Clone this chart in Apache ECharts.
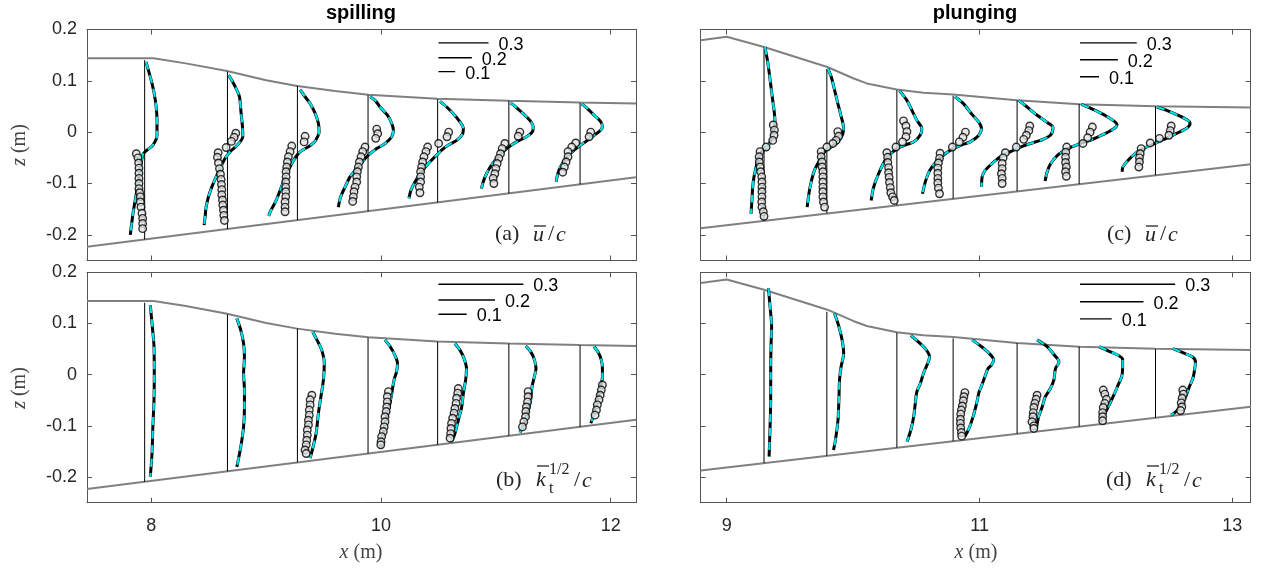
<!DOCTYPE html>
<html><head><meta charset="utf-8">
<script src="https://cdn.jsdelivr.net/npm/echarts@6/dist/echarts.min.js"></script>
<style>html,body{margin:0;padding:0;background:#fff}#c{width:1261px;height:572px}</style>
</head><body><div id="c"></div><script>
// ---------- data ----------
const xTicksL = [8, 10, 12];
const xTicksR = [9, 11, 13];
const zTicks = [-0.2, -0.1, 0, 0.1, 0.2];
const scaleBars = [0.3, 0.2, 0.1];

const spillSurf = [[7.44,0.144],[8.02,0.144],[8.3,0.134],[8.66,0.119],[9.0,0.101],[9.27,0.090],[9.6,0.080],[9.89,0.073],[10.49,0.065],[11.11,0.061],[11.73,0.058],[12.22,0.056]];
const spillBed = [[7.44,-0.2234],[12.22,-0.088]];
const plungeSurf = [[8.794,0.179],[9.0,0.186],[9.295,0.166],[9.796,0.127],[10.0,0.105],[10.108,0.095],[10.345,0.083],[10.555,0.077],[10.793,0.0735],[11.294,0.062],[11.79,0.0546],[12.396,0.0507],[13.145,0.048]];
const plungeBed = [[8.794,-0.187],[13.145,-0.0624]];

const stationsL = [7.942, 8.663, 9.272, 9.887, 10.493, 11.113, 11.733];
const stTopL = [0.1405, 0.118, 0.0905, 0.0723, 0.0645, 0.061, 0.0573];
const stBotL = [-0.2092, -0.1888, -0.1716, -0.1541, -0.137, -0.1194, -0.1019];
const stationsR = [9.295, 9.792, 10.346, 10.791, 11.297, 11.788, 12.392];
const stTopR = [0.163, 0.123, 0.082, 0.071, 0.062, 0.055, 0.050];
const stBotR = [-0.1727, -0.1584, -0.1426, -0.1298, -0.1153, -0.1013, -0.0839];

// profiles: [value, z]
const spillU_model = [
 [[0.008,0.137],[0.044,0.095],[0.064,0.062],[0.074,0.023],[0.074,-0.006],[0.050,-0.025],[0.014,-0.035],[-0.010,-0.043],[-0.030,-0.081],[-0.050,-0.120],[-0.070,-0.159],[-0.086,-0.200]],
 [[0.006,0.111],[0.026,0.101],[0.056,0.082],[0.072,0.069],[0.080,0.043],[0.090,0.010],[0.092,-0.009],[0.076,-0.019],[0.046,-0.029],[0.016,-0.038],[-0.014,-0.051],[-0.040,-0.068],[-0.068,-0.087],[-0.094,-0.107],[-0.114,-0.126],[-0.128,-0.146],[-0.134,-0.165],[-0.140,-0.181]],
 [[0.016,0.083],[0.046,0.069],[0.076,0.056],[0.106,0.037],[0.126,0.017],[0.130,0.000],[0.122,-0.008],[0.105,-0.018],[0.063,-0.029],[0.021,-0.037],[0.000,-0.044],[-0.032,-0.060],[-0.063,-0.080],[-0.095,-0.106],[-0.126,-0.132],[-0.158,-0.152],[-0.172,-0.163]],
 [[0.012,0.069],[0.042,0.062],[0.072,0.049],[0.116,0.033],[0.142,0.017],[0.152,0.004],[0.142,-0.009],[0.102,-0.022],[0.052,-0.032],[0.012,-0.042],[-0.028,-0.055],[-0.068,-0.071],[-0.108,-0.087],[-0.138,-0.107],[-0.164,-0.126],[-0.178,-0.146]],
 [[0.014,0.060],[0.054,0.049],[0.094,0.036],[0.134,0.020],[0.154,0.007],[0.150,-0.003],[0.114,-0.016],[0.064,-0.025],[0.024,-0.035],[-0.016,-0.048],[-0.056,-0.061],[-0.096,-0.077],[-0.136,-0.097],[-0.160,-0.113],[-0.172,-0.129]],
 [[0.010,0.057],[0.046,0.048],[0.086,0.036],[0.126,0.023],[0.146,0.010],[0.140,0.000],[0.106,-0.009],[0.056,-0.017],[0.016,-0.025],[-0.024,-0.035],[-0.064,-0.048],[-0.104,-0.064],[-0.134,-0.081],[-0.154,-0.097],[-0.164,-0.110]],
 [[0.010,0.055],[0.044,0.046],[0.084,0.033],[0.120,0.022],[0.134,0.012],[0.124,0.004],[0.084,-0.006],[0.044,-0.016],[0.004,-0.025],[-0.036,-0.035],[-0.076,-0.048],[-0.106,-0.061],[-0.126,-0.074],[-0.140,-0.090],[-0.142,-0.097]]
];
const spillU_obs = [
 [[-0.050,-0.042],[-0.040,-0.050],[-0.036,-0.060],[-0.034,-0.070],[-0.034,-0.080],[-0.034,-0.090],[-0.034,-0.100],[-0.034,-0.110],[-0.030,-0.118],[-0.026,-0.126],[-0.026,-0.136],[-0.022,-0.146],[-0.016,-0.158],[-0.012,-0.168],[-0.012,-0.178],[-0.012,-0.188]],
 [[0.050,-0.002],[0.040,-0.010],[0.024,-0.018],[-0.008,-0.030],[-0.056,-0.040],[-0.060,-0.049],[-0.054,-0.060],[-0.048,-0.071],[-0.042,-0.082],[-0.038,-0.092],[-0.036,-0.102],[-0.034,-0.112],[-0.034,-0.122],[-0.030,-0.132],[-0.028,-0.142],[-0.024,-0.152],[-0.022,-0.162],[-0.018,-0.172]],
 [[0.046,-0.008],[0.040,-0.019],[-0.034,-0.027],[-0.044,-0.038],[-0.054,-0.048],[-0.060,-0.058],[-0.064,-0.068],[-0.068,-0.077],[-0.068,-0.087],[-0.070,-0.097],[-0.070,-0.107],[-0.070,-0.116],[-0.070,-0.126],[-0.074,-0.136],[-0.074,-0.146],[-0.074,-0.155]],
 [[0.052,0.006],[0.058,-0.003],[0.046,-0.012],[-0.018,-0.029],[-0.032,-0.038],[-0.042,-0.048],[-0.052,-0.058],[-0.058,-0.068],[-0.064,-0.077],[-0.068,-0.087],[-0.068,-0.097],[-0.078,-0.107],[-0.084,-0.116],[-0.088,-0.126],[-0.092,-0.135]],
 [[0.066,0.000],[0.056,-0.009],[0.006,-0.022],[-0.060,-0.029],[-0.070,-0.038],[-0.082,-0.048],[-0.090,-0.058],[-0.096,-0.068],[-0.102,-0.077],[-0.102,-0.087],[-0.102,-0.097],[-0.110,-0.107],[-0.106,-0.118]],
 [[0.066,0.000],[0.056,-0.008],[-0.024,-0.022],[-0.040,-0.032],[-0.050,-0.042],[-0.060,-0.051],[-0.070,-0.061],[-0.078,-0.071],[-0.084,-0.081],[-0.094,-0.090],[-0.090,-0.100]],
 [[0.064,0.000],[0.054,-0.009],[-0.026,-0.021],[-0.050,-0.029],[-0.072,-0.038],[-0.072,-0.048],[-0.084,-0.058],[-0.094,-0.068],[-0.104,-0.078]]
];
const spillK_model = [
 [[0.020,0.136],[0.026,0.100],[0.033,0.055],[0.034,0.003],[0.033,-0.049],[0.029,-0.102],[0.026,-0.154],[0.020,-0.199]],
 [[0.033,0.110],[0.047,0.087],[0.057,0.061],[0.060,0.035],[0.057,0.003],[0.060,-0.030],[0.060,-0.063],[0.057,-0.102],[0.047,-0.141],[0.033,-0.180]],
 [[0.054,0.084],[0.069,0.068],[0.086,0.048],[0.095,0.022],[0.092,-0.010],[0.083,-0.043],[0.074,-0.076],[0.066,-0.115],[0.054,-0.144],[0.045,-0.163]],
 [[0.060,0.068],[0.078,0.055],[0.095,0.038],[0.104,0.022],[0.101,0.006],[0.092,-0.010],[0.084,-0.036],[0.075,-0.063],[0.063,-0.089],[0.054,-0.115],[0.045,-0.144]],
 [[0.061,0.061],[0.079,0.048],[0.093,0.032],[0.102,0.012],[0.099,-0.010],[0.091,-0.036],[0.085,-0.063],[0.073,-0.089],[0.061,-0.115],[0.049,-0.131]],
 [[0.060,0.056],[0.077,0.045],[0.090,0.030],[0.096,0.012],[0.090,-0.004],[0.082,-0.023],[0.077,-0.049],[0.066,-0.076],[0.053,-0.098],[0.039,-0.113]],
 [[0.049,0.055],[0.065,0.043],[0.075,0.029],[0.079,0.012],[0.079,-0.004],[0.073,-0.023],[0.061,-0.049],[0.049,-0.076],[0.038,-0.095]]
];
const spillK_obs = [
 [],
 [],
 [[0.051,-0.040],[0.045,-0.049],[0.045,-0.059],[0.042,-0.069],[0.042,-0.079],[0.039,-0.089],[0.039,-0.098],[0.035,-0.108],[0.035,-0.118],[0.033,-0.128],[0.031,-0.137],[0.027,-0.147],[0.031,-0.154]],
 [[0.072,-0.033],[0.068,-0.043],[0.068,-0.053],[0.066,-0.063],[0.064,-0.072],[0.060,-0.082],[0.060,-0.092],[0.057,-0.102],[0.054,-0.111],[0.048,-0.121],[0.046,-0.131],[0.045,-0.137]],
 [[0.073,-0.027],[0.071,-0.036],[0.067,-0.046],[0.065,-0.056],[0.061,-0.066],[0.058,-0.075],[0.053,-0.085],[0.049,-0.095],[0.047,-0.105],[0.046,-0.115],[0.044,-0.124]],
 [[0.068,-0.033],[0.068,-0.043],[0.066,-0.053],[0.062,-0.063],[0.060,-0.072],[0.059,-0.082],[0.053,-0.092],[0.048,-0.102]],
 [[0.079,-0.020],[0.075,-0.030],[0.071,-0.040],[0.067,-0.049],[0.061,-0.059],[0.058,-0.069],[0.053,-0.079]]
];
const plungeU_model = [
 [[0.005,0.166],[0.018,0.140],[0.028,0.114],[0.037,0.088],[0.046,0.062],[0.055,0.036],[0.058,0.020],[0.053,0.006],[0.035,-0.018],[0.014,-0.029],[-0.012,-0.038],[-0.030,-0.048],[-0.042,-0.068],[-0.053,-0.087],[-0.060,-0.107],[-0.064,-0.133],[-0.069,-0.159]],
 [[0.005,0.124],[0.023,0.108],[0.041,0.082],[0.058,0.056],[0.076,0.030],[0.088,0.010],[0.085,-0.003],[0.058,-0.019],[0.023,-0.029],[-0.012,-0.038],[-0.039,-0.055],[-0.065,-0.074],[-0.083,-0.097],[-0.095,-0.120],[-0.104,-0.146]],
 [[0.014,0.081],[0.053,0.062],[0.079,0.043],[0.106,0.023],[0.132,0.007],[0.123,-0.006],[0.088,-0.019],[0.044,-0.025],[0.000,-0.032],[-0.032,-0.042],[-0.062,-0.055],[-0.097,-0.081],[-0.123,-0.107],[-0.136,-0.133]],
 [[0.009,0.069],[0.053,0.056],[0.097,0.036],[0.135,0.020],[0.150,0.007],[0.136,-0.006],[0.090,-0.019],[0.044,-0.025],[0.000,-0.032],[-0.035,-0.040],[-0.062,-0.048],[-0.097,-0.061],[-0.123,-0.074],[-0.145,-0.094],[-0.162,-0.120]],
 [[0.009,0.062],[0.053,0.049],[0.106,0.033],[0.155,0.020],[0.190,0.009],[0.176,-0.006],[0.123,-0.016],[0.071,-0.022],[0.018,-0.029],[-0.035,-0.038],[-0.088,-0.048],[-0.132,-0.061],[-0.168,-0.074],[-0.185,-0.087],[-0.188,-0.107]],
 [[0.012,0.054],[0.070,0.045],[0.144,0.031],[0.200,0.015],[0.181,0.006],[0.107,-0.008],[0.033,-0.019],[0.000,-0.023],[-0.059,-0.032],[-0.115,-0.045],[-0.152,-0.062],[-0.170,-0.078],[-0.180,-0.095]],
 [[0.007,0.049],[0.056,0.043],[0.118,0.033],[0.171,0.023],[0.183,0.017],[0.162,0.007],[0.109,-0.003],[0.056,-0.012],[0.004,-0.021],[-0.049,-0.029],[-0.102,-0.040],[-0.146,-0.055],[-0.173,-0.068],[-0.176,-0.077]]
];
const plungeU_obs = [
 [[0.049,0.014],[0.055,0.004],[0.053,-0.006],[0.046,-0.016],[0.011,-0.029],[-0.021,-0.038],[-0.026,-0.048],[-0.025,-0.058],[-0.021,-0.068],[-0.018,-0.077],[-0.012,-0.087],[-0.011,-0.097],[-0.011,-0.107],[-0.011,-0.116],[-0.011,-0.126],[-0.012,-0.136],[-0.011,-0.146],[-0.004,-0.155],[0.000,-0.164]],
 [[0.058,0.001],[0.062,-0.008],[0.049,-0.016],[0.032,-0.022],[0.000,-0.029],[-0.030,-0.038],[-0.030,-0.048],[-0.026,-0.058],[-0.025,-0.068],[-0.021,-0.077],[-0.021,-0.087],[-0.021,-0.097],[-0.021,-0.107],[-0.021,-0.116],[-0.021,-0.126],[-0.018,-0.136],[-0.012,-0.146]],
 [[0.035,0.022],[0.048,0.012],[0.053,0.001],[0.048,-0.009],[0.030,-0.019],[-0.005,-0.029],[-0.053,-0.040],[-0.049,-0.049],[-0.048,-0.059],[-0.044,-0.069],[-0.044,-0.079],[-0.041,-0.088],[-0.039,-0.098],[-0.035,-0.108],[-0.032,-0.118],[-0.023,-0.126],[-0.014,-0.133]],
 [[0.065,0.000],[0.052,-0.010],[0.033,-0.019],[-0.004,-0.029],[-0.069,-0.041],[-0.072,-0.051],[-0.078,-0.060],[-0.081,-0.070],[-0.081,-0.080],[-0.081,-0.090],[-0.081,-0.099],[-0.078,-0.109],[-0.072,-0.120]],
 [[0.067,0.012],[0.062,0.003],[0.049,-0.006],[0.035,-0.014],[-0.004,-0.029],[-0.062,-0.040],[-0.074,-0.050],[-0.079,-0.061],[-0.079,-0.071],[-0.083,-0.081],[-0.079,-0.090],[-0.079,-0.100]],
 [[0.070,0.010],[0.058,0.000],[0.045,-0.011],[0.020,-0.022],[-0.066,-0.029],[-0.071,-0.039],[-0.072,-0.049],[-0.072,-0.059],[-0.068,-0.068],[-0.072,-0.077],[-0.068,-0.086]],
 [[0.083,0.012],[0.078,0.003],[0.071,-0.006],[0.021,-0.012],[-0.028,-0.021],[-0.076,-0.032],[-0.081,-0.042],[-0.085,-0.050],[-0.085,-0.058],[-0.088,-0.068]]
];
const plungeK_model = [
 [[0.014,0.169],[0.019,0.133],[0.024,0.094],[0.022,0.055],[0.021,0.003],[0.021,-0.049],[0.019,-0.102],[0.016,-0.160]],
 [[0.024,0.120],[0.038,0.094],[0.048,0.068],[0.053,0.042],[0.045,0.016],[0.040,-0.010],[0.038,-0.049],[0.035,-0.089],[0.027,-0.128],[0.021,-0.147]],
 [[0.044,0.077],[0.068,0.064],[0.093,0.048],[0.103,0.035],[0.095,0.019],[0.084,0.003],[0.074,-0.017],[0.063,-0.033],[0.058,-0.056],[0.053,-0.082],[0.044,-0.108],[0.032,-0.131]],
 [[0.060,0.068],[0.089,0.055],[0.113,0.042],[0.128,0.029],[0.121,0.019],[0.110,0.012],[0.100,-0.004],[0.089,-0.023],[0.082,-0.033],[0.074,-0.056],[0.063,-0.082],[0.050,-0.105],[0.037,-0.121]],
 [[0.063,0.068],[0.095,0.055],[0.118,0.038],[0.132,0.025],[0.121,0.012],[0.116,-0.010],[0.105,-0.027],[0.089,-0.043],[0.079,-0.063],[0.068,-0.082],[0.061,-0.102],[0.055,-0.108]],
 [[0.063,0.055],[0.097,0.045],[0.123,0.038],[0.137,0.030],[0.137,0.012],[0.134,-0.004],[0.123,-0.020],[0.112,-0.036],[0.097,-0.056],[0.081,-0.076],[0.067,-0.092]],
 [[0.055,0.051],[0.086,0.043],[0.116,0.035],[0.126,0.025],[0.123,0.009],[0.118,-0.007],[0.107,-0.023],[0.095,-0.043],[0.081,-0.059],[0.065,-0.072],[0.049,-0.079]]
];
const plungeK_obs = [
 [],
 [],
 [],
 [[0.037,-0.035],[0.034,-0.043],[0.032,-0.051],[0.029,-0.061],[0.026,-0.069],[0.024,-0.077],[0.023,-0.087],[0.023,-0.095],[0.024,-0.104],[0.026,-0.113],[0.027,-0.120]],
 [[0.063,-0.040],[0.060,-0.048],[0.056,-0.056],[0.053,-0.064],[0.051,-0.074],[0.050,-0.082],[0.047,-0.092],[0.053,-0.100],[0.053,-0.105]],
 [[0.076,-0.030],[0.081,-0.038],[0.086,-0.048],[0.081,-0.056],[0.076,-0.064],[0.074,-0.074],[0.074,-0.082],[0.074,-0.090]],
 [[0.086,-0.030],[0.088,-0.038],[0.084,-0.046],[0.081,-0.055],[0.083,-0.063],[0.079,-0.070]]
];

// ---------- layout / style ----------
const AX = '#555555';
const TXT = '#262626';
const SANS = 'Liberation Sans';
const SERIF = 'Liberation Serif';
const grids = [
  {left:87, top:29.5, width:549, height:231, outerBoundsMode:'none'},
  {left:87, top:272.3, width:549, height:230.4, outerBoundsMode:'none'},
  {left:700.7, top:29.5, width:550, height:231, outerBoundsMode:'none'},
  {left:700.7, top:272.3, width:550, height:230.4, outerBoundsMode:'none'}
];
const xRangeL = [7.44, 12.22], xRangeR = [8.794, 13.145], zRange = [-0.25, 0.2];

const panels = [
  {g:0, st:stationsL, top:stTopL, bot:stBotL, S:1.453, model:spillU_model, obs:spillU_obs, surf:spillSurf, bed:spillBed, xr:xRangeL, xt:xTicksL, xl:false, yl:true, leg:{x:10.50, z:[0.174,0.145,0.118]}},
  {g:1, st:stationsL, top:stTopL, bot:stBotL, S:2.463, model:spillK_model, obs:spillK_obs, surf:spillSurf, bed:spillBed, xr:xRangeL, xt:xTicksL, xl:true, yl:true, leg:{x:10.50, z:[0.1766,0.146,0.118]}},
  {g:2, st:stationsR, top:stTopR, bot:stBotR, S:1.495, model:plungeU_model, obs:plungeU_obs, surf:plungeSurf, bed:plungeBed, xr:xRangeR, xt:xTicksR, xl:false, yl:false, leg:{x:11.795, z:[0.174,0.141,0.108]}},
  {g:3, st:stationsR, top:stTopR, bot:stBotR, S:2.508, model:plungeK_model, obs:plungeK_obs, surf:plungeSurf, bed:plungeBed, xr:xRangeR, xt:xTicksR, xl:true, yl:false, leg:{x:11.795, z:[0.1766,0.1426,0.109]}}
];

const xAxes = [], yAxes = [], series = [];
function axisBase(ticks, showLabel, extraLabel) {
  return {
    axisLine:{show:true, onZero:false, lineStyle:{color:AX, width:1}},
    axisTick:{show:true, inside:true, length:5, customValues:ticks, lineStyle:{color:AX, width:1}},
    axisLabel:Object.assign({show:showLabel, customValues:ticks, color:TXT, fontSize:18, fontFamily:SANS,
      formatter:v => (Math.abs(v) < 1e-9 ? '0' : String(+v.toFixed(2)))}, extraLabel),
    splitLine:{show:false}
  };
}
panels.forEach(p => {
  xAxes.push(Object.assign({type:'value', gridIndex:p.g, position:'bottom', min:p.xr[0], max:p.xr[1]}, axisBase(p.xt, p.xl, {margin:14})));
  xAxes.push(Object.assign({type:'value', gridIndex:p.g, position:'top', min:p.xr[0], max:p.xr[1]}, axisBase(p.xt, false, {})));
  yAxes.push(Object.assign({type:'value', gridIndex:p.g, position:'left', min:zRange[0], max:zRange[1]}, axisBase(zTicks, p.yl, {margin:10})));
  yAxes.push(Object.assign({type:'value', gridIndex:p.g, position:'right', min:zRange[0], max:zRange[1]}, axisBase(zTicks, false, {})));

  const ax = {xAxisIndex:2*p.g, yAxisIndex:2*p.g, silent:true, animation:false};
  series.push(Object.assign({type:'line', data:p.surf, symbol:'none', lineStyle:{color:'#808080', width:2}, z:2}, ax));
  series.push(Object.assign({type:'line', data:p.bed, symbol:'none', lineStyle:{color:'#808080', width:2}, z:2}, ax));
  p.st.forEach((x0, i) => {
    series.push(Object.assign({type:'line', data:[[x0, p.bot[i]], [x0, p.top[i]]], symbol:'none', lineStyle:{color:'#000', width:1}, z:3}, ax));
    const pts = p.model[i].map(([v, z]) => [x0 + p.S * v, z]);
    series.push(Object.assign({type:'line', data:pts, symbol:'none', smooth:0.3, lineStyle:{color:'#000', width:3}, z:4}, ax));
    series.push(Object.assign({type:'line', data:pts, symbol:'none', smooth:0.3, lineStyle:{color:'#00e0e6', width:2.2, type:[8,6]}, z:5}, ax));
  });
  const obsPts = [];
  p.st.forEach((x0, i) => p.obs[i].forEach(([v, z]) => obsPts.push([x0 + p.S * v, z])));
  series.push(Object.assign({type:'scatter', data:obsPts, symbol:'circle', symbolSize:7.5,
    itemStyle:{color:'#e4e4e4', borderColor:'#000', borderWidth:1.4}, z:10}, ax));
  scaleBars.forEach((v, k) => {
    series.push(Object.assign({type:'line', data:[[p.leg.x, p.leg.z[k]], [p.leg.x + p.S * v, p.leg.z[k]]], symbol:'none',
      lineStyle:{color:'#000', width:1.4}, z:6,
      endLabel:{show:true, formatter:() => String(v), color:'#000', fontSize:18, fontFamily:SANS, distance:10, offset:[0, 2]}}, ax));
  });
});

// ---------- text graphics ----------
const T = (x, y, text, extra) => ({type:'text', x, y, silent:true, z:100,
  style:Object.assign({text, fill:TXT, fontSize:22, fontFamily:SERIF, align:'left', verticalAlign:'middle'}, extra || {})});
const OL = (x1, x2, y) => ({type:'line', silent:true, z:100, shape:{x1, y1:y, x2, y2:y}, style:{stroke:TXT, lineWidth:1.3}});
const IT = {fontStyle:'italic'};
const graphics = [
  T(361, 13, 'spilling', {fontFamily:SANS, fontWeight:'bold', fontSize:20, align:'center', fill:'#000'}),
  T(975, 13, 'plunging', {fontFamily:SANS, fontWeight:'bold', fontSize:20, align:'center', fill:'#000'})
];
[361, 976].forEach(cx => graphics.push(T(cx, 553, '{i|x} (m)', {align:'center', fontSize:20, fill:'#444',
  rich:{i:{fontStyle:'italic', fontSize:20, fontFamily:SERIF, fill:'#444'}}})));
[145, 388].forEach(cy => { const t = T(20, cy, '{i|z} (m)', {align:'center', fontSize:20, fill:'#444',
  rich:{i:{fontStyle:'italic', fontSize:20, fontFamily:SERIF, fill:'#444'}}}); t.rotation = Math.PI / 2; graphics.push(t); });
// (a), (c)
[['(a)', 0], ['(c)', 612]].forEach(([lab, dx]) => {
  graphics.push(T(495 + dx, 234, lab));
  graphics.push(T(533 + dx, 235, 'u', IT));
  graphics.push(OL(534 + dx, 546 + dx, 226));
  graphics.push(T(548 + dx, 234, '/'));
  graphics.push(T(556 + dx, 235, 'c', IT));
});
// (b), (d)
[['(b)', 0], ['(d)', 610]].forEach(([lab, dx]) => {
  graphics.push(T(496 + dx, 480, lab));
  graphics.push(T(536 + dx, 480, 'k', IT));
  graphics.push(OL(537 + dx, 549 + dx, 466));
  graphics.push(T(549 + dx, 470, '1/2', {fontSize:16}));
  graphics.push(T(549 + dx, 489, 't', {fontSize:16}));
  graphics.push(T(574 + dx, 480, '/'));
  graphics.push(T(582 + dx, 481, 'c', IT));
});

const chart = echarts.init(document.getElementById('c'), null, {renderer:'canvas'});
chart.setOption({
  animation:false,
  backgroundColor:'#fff',
  grid:grids,
  xAxis:xAxes,
  yAxis:yAxes,
  series:series,
  graphic:graphics
});
</script></body></html>
